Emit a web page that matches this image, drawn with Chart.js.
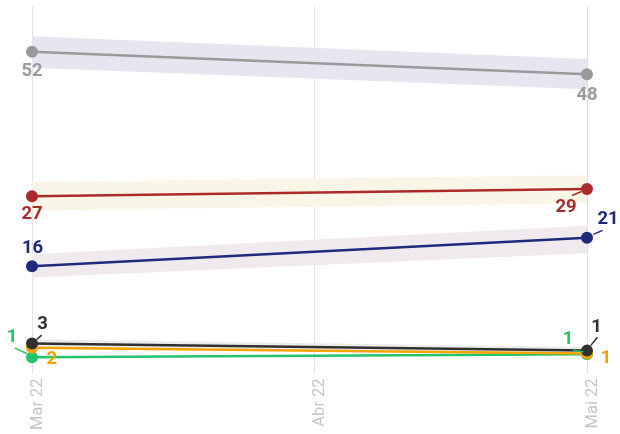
<!DOCTYPE html>
<html>
<head>
<meta charset="utf-8">
<script src="https://cdn.jsdelivr.net/npm/chart.js@4"></script>
<style>
html,body{margin:0;padding:0;background:#fff;}
#wrap{width:620px;height:434px;position:relative;}
</style>
</head>
<body>
<div id="wrap"><canvas id="c"></canvas></div>
<script>
// ---- data ----
const tickLabels = ['Mar 22', 'Abr 22', 'Mai 22'];
const tickDays = [0, 31, 61];        // days since 1 Mar 2022
const pointDays = [0, 61];           // survey dates

const greyVals = [52.3, 48.5];
const redVals = [28.0, 29.2];
const blueVals = [16.2, 21.0];
const blackVals = [3.2, 2.0];
const orangeVals = [2.5, 1.5];
const greenVals = [0.9, 1.4];

const greyLow = [49.6, 46.0], greyHigh = [54.9, 51.1];
const redLow = [25.6, 26.8], redHigh = [30.4, 31.5];
const blueLow = [14.3, 18.4], blueHigh = [18.2, 23.0];
const blackLow = [2.6, 1.5], blackHigh = [3.9, 2.6];

const greyLbl = ['52', '48'];
const redLbl = ['27', '29'];
const blueLbl = ['16', '21'];
const blackLbl = ['3', '1'];
const orangeLbl = ['2', '1'];
const greenLbl = ['1', '1'];

// ---- styles ----
const C = {
  grey: '#9a9a9a', red: '#ab2b2b', blue: '#1f2a7c',
  black: '#303030', orange: '#f5a300', green: '#22c46c'
};
const BAND = {
  grey: 'rgb(230,229,240)', red: 'rgb(249,245,231)',
  blue: 'rgb(240,233,237)', black: 'rgb(236,236,236)'
};
// label placement relative to point: [dx, dy] and optional leader [x1,y1,x2,y2]
const labelPlace = {
  grey:   [[[0, 20]], [[0, 21]]],
  red:    [[[0, 18.5]], [[-21, 18], [-15, 6.5, -5.5, 2.5]]],
  blue:   [[[0.5, -17.5]], [[21, -18], [6.3, -3.3, 15.7, -7.3]]],
  black:  [[[10.5, -19], [4.7, -4, 9.7, -8.3]], [[9.5, -23.5], [3.7, -5, 10.3, -13.3]]],
  orange: [[[19.7, 12]], [[19, 5]]],
  green:  [[[-20, -20], [-17, -9, -5.3, -3.7]], [[-19, -14.5], [-13.7, -4, -3.7, -2.3]]]
};

function pts(vals) { return pointDays.map((d, i) => ({x: d, y: vals[i]})); }
function band(low, high, color) {
  return [
    {data: pts(high), borderWidth: 0, pointRadius: 0, fill: false, order: 20, clip: false},
    {data: pts(low), borderWidth: 0, pointRadius: 0, fill: '-1', backgroundColor: color, order: 20, clip: false}
  ];
}
function line(key, vals, lbls, order) {
  return {
    key: key, lbls: lbls, data: pts(vals), borderColor: C[key], backgroundColor: C[key],
    borderWidth: 2.5, pointRadius: 6, pointHoverRadius: 6, pointBorderWidth: 0,
    fill: false, order: order, clip: false
  };
}

const datasets = [
  ...band(greyLow, greyHigh, BAND.grey),
  ...band(redLow, redHigh, BAND.red),
  ...band(blueLow, blueHigh, BAND.blue),
  ...band(blackLow, blackHigh, BAND.black),
  line('grey', greyVals, greyLbl, 5),
  line('red', redVals, redLbl, 5),
  line('blue', blueVals, blueLbl, 5),
  line('green', greenVals, greenLbl, 4),
  line('orange', orangeVals, orangeLbl, 3),
  line('black', blackVals, blackLbl, 2)
];

const labelPlugin = {
  id: 'pointLabels',
  afterDatasetsDraw(chart) {
    const ctx = chart.ctx;
    ctx.save();
    ctx.font = 'bold 18.5px Roboto';
    ctx.textAlign = 'center';
    ctx.textBaseline = 'middle';
    chart.data.datasets.forEach((ds, di) => {
      if (!ds.key) return;
      const meta = chart.getDatasetMeta(di);
      meta.data.forEach((p, i) => {
        const pl = labelPlace[ds.key][i];
        ctx.fillStyle = C[ds.key];
        ctx.strokeStyle = C[ds.key];
        if (pl[1]) {
          ctx.lineWidth = 1.5;
          ctx.beginPath();
          ctx.moveTo(p.x + pl[1][0], p.y + pl[1][1]);
          ctx.lineTo(p.x + pl[1][2], p.y + pl[1][3]);
          ctx.stroke();
        }
        ctx.fillText(ds.lbls[i], p.x + pl[0][0], p.y + pl[0][1]);
      });
    });
    ctx.restore();
  }
};

new Chart(document.getElementById('c'), {
  type: 'line',
  data: {datasets},
  plugins: [labelPlugin],
  options: {
    responsive: true,
    maintainAspectRatio: false,
    animation: false,
    layout: {padding: {left: 32, right: 33, top: 6, bottom: 0}},
    plugins: {legend: {display: false}, tooltip: {enabled: false}},
    scales: {
      x: {
        type: 'linear', min: tickDays[0], max: tickDays[tickDays.length - 1],
        afterBuildTicks(scale) { scale.ticks = tickDays.map(v => ({value: v})); },
        grid: {color: '#e2e2e2', lineWidth: 1, drawTicks: false},
        border: {display: false},
        ticks: {
          minRotation: 90, maxRotation: 90, crossAlign: 'far', padding: 4, labelOffset: 5.5,
          color: '#c6c6c6', font: {family: 'Roboto', size: 16.5},
          callback: (v) => tickLabels[tickDays.indexOf(v)]
        }
      },
      y: {display: false, min: -2, max: 60}
    }
  }
});
</script>
</body>
</html>
